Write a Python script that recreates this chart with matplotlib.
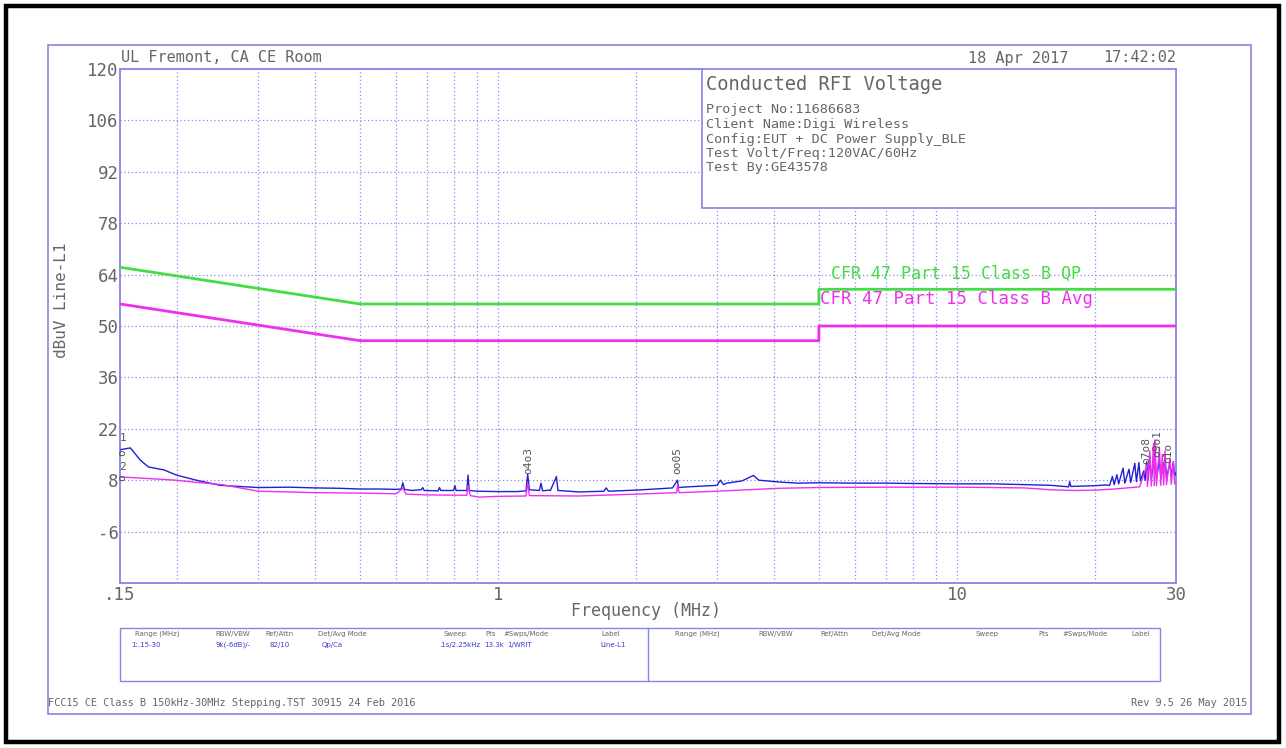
import matplotlib
matplotlib.use("Agg")
import matplotlib.pyplot as plt
from matplotlib.patches import Rectangle
from matplotlib.lines import Line2D

W, H = 1286, 748

# ---- chart values -------------------------------------------------------
y_ticks = [-6, 8, 22, 36, 50, 64, 78, 92, 106, 120]
x_ticks = [0.15, 1, 10, 30]
x_tick_labels = [".15", "1", "10", "30"]
x_grid = [0.2, 0.3, 0.4, 0.5, 0.6, 0.7, 0.8, 0.9, 1, 2, 3, 4, 5, 6, 7, 8, 9, 10, 20]

# FCC Part 15 Class B conducted limits
qp_freq = [0.15, 0.5, 5.0, 5.0, 30.0]
qp_level = [66, 56, 56, 60, 60]
avg_freq = [0.15, 0.5, 5.0, 5.0, 30.0]
avg_level = [56, 46, 46, 50, 50]

# Peak / QP scan (blue)
peak_freq = [0.150, 0.158, 0.166, 0.173, 0.187, 0.199, 0.220, 0.248, 0.300, 0.350,
             0.400, 0.450, 0.500, 0.550, 0.600, 0.615, 0.620, 0.625, 0.650, 0.680,
             0.685, 0.690, 0.740, 0.745, 0.750, 0.800, 0.805, 0.810, 0.855, 0.860,
             0.865, 0.900, 1.000, 1.100, 1.150, 1.160, 1.170, 1.230, 1.240, 1.250,
             1.290, 1.300, 1.340, 1.350, 1.500, 1.700, 1.720, 1.740, 2.000, 2.200,
             2.400, 2.460, 2.470, 2.600, 3.000, 3.050, 3.100, 3.150, 3.400, 3.600,
             3.700, 4.100, 4.500, 5.000, 6.000, 7.000, 8.000, 10.00, 12.00, 14.00,
             16.00, 17.50, 17.60, 17.70, 20.00, 21.00, 21.50, 21.80, 22.00, 22.30,
             22.50, 23.00, 23.20, 23.70, 23.90, 24.40, 24.60, 24.90, 25.10, 25.50,
             25.70, 25.90, 26.10, 26.30, 26.50, 27.00, 27.20, 27.60, 27.80, 28.40,
             28.60, 29.10, 29.30, 29.60, 29.80, 30.00]
peak_level = [16.3, 16.8, 13.5, 11.6, 10.8, 9.4, 8.0, 6.6, 6.0, 6.1,
              5.9, 5.8, 5.6, 5.6, 5.5, 5.6, 7.3, 5.5, 5.2, 5.4,
              6.0, 5.2, 5.1, 6.0, 5.2, 5.2, 6.5, 5.2, 5.2, 9.4,
              5.2, 5.0, 4.9, 4.9, 5.1, 9.6, 5.4, 5.2, 7.2, 5.1,
              5.3, 5.2, 9.0, 5.2, 4.8, 5.0, 5.9, 5.0, 5.3, 5.6,
              5.9, 8.0, 6.0, 6.2, 6.6, 8.0, 6.8, 7.2, 7.8, 9.3,
              8.0, 7.5, 7.2, 7.3, 7.2, 7.2, 7.1, 7.0, 7.0, 6.8,
              6.6, 6.2, 7.6, 6.3, 6.5, 6.7, 6.6, 9.0, 6.8, 9.5,
              7.0, 11.3, 7.2, 11.0, 7.4, 12.6, 7.6, 12.8, 7.8, 10.5,
              8.0, 13.0, 8.2, 14.5, 8.3, 15.0, 8.5, 13.5, 8.6, 14.0,
              8.8, 12.5, 9.0, 13.0, 9.2, 10.0]

# Average scan (magenta)
avg_scan_freq = [0.150, 0.160, 0.199, 0.220, 0.250, 0.300, 0.350, 0.400, 0.490, 0.600,
                 0.620, 0.630, 0.700, 0.855, 0.860, 0.870, 0.910, 1.000, 1.150, 1.160,
                 1.170, 1.500, 2.000, 2.450, 2.460, 2.480, 3.000, 3.500, 4.100, 5.000,
                 7.000, 10.00, 14.00, 16.00, 18.00, 20.00, 22.00, 24.00, 25.00, 25.90,
                 26.00, 26.30, 26.50, 26.80, 26.90, 27.00, 27.20, 27.60, 27.80, 28.00,
                 28.20, 28.40, 28.60, 29.10, 29.30, 29.60, 29.80, 30.00]
avg_scan_level = [8.9, 8.7, 8.0, 7.4, 6.8, 5.0, 4.8, 4.6, 4.5, 4.3,
                  5.8, 4.2, 4.0, 3.9, 6.5, 3.8, 3.4, 3.6, 3.7, 7.2,
                  3.8, 3.7, 4.2, 4.6, 6.7, 4.6, 5.0, 5.4, 5.8, 6.0,
                  6.1, 6.1, 5.9, 5.4, 5.2, 5.3, 5.6, 6.0, 6.2, 12.0,
                  6.3, 16.0, 6.4, 18.0, 6.5, 19.0, 6.5, 17.0, 6.6, 15.0,
                  6.7, 16.0, 6.8, 14.0, 6.9, 13.0, 7.0, 7.2]

header_site = "UL Fremont, CA CE Room"
header_date = "18 Apr 2017"
header_time = "17:42:02"
box_title = "Conducted RFI Voltage"
box_lines = ["Project No:11686683", "Client Name:Digi Wireless",
             "Config:EUT + DC Power Supply_BLE", "Test Volt/Freq:120VAC/60Hz",
             "Test By:GE43578"]
qp_label = "CFR 47 Part 15 Class B QP"
avg_label = "CFR 47 Part 15 Class B Avg"
y_label = "dBuV Line-L1"
x_label = "Frequency (MHz)"

table_heads = ["Range (MHz)", "RBW/VBW", "Ref/Attn", "Det/Avg Mode", "Sweep", "Pts",
               "#Swps/Mode", "Label"]
table_values = ["1:.15-30", "9k(-6dB)/-", "82/10", "Qp/Ca", ".1s/2.25kHz", "13.3k",
                "1/WRIT", "Line-L1"]
footer_left = "FCC15 CE Class B 150kHz-30MHz Stepping.TST 30915 24 Feb 2016"
footer_right = "Rev 9.5 26 May 2015"

# marker annotations: (freq, level, text, rotation)
marker_notes = [(0.152, 19.5, "1", 0), (0.152, 15.5, "o", 90),
                (0.152, 11.5, "2", 0), (0.152, 8.6, "o", 90),
                (1.165, 13.5, "o4o3", 90), (2.46, 13.5, "oo05", 90),
                (25.9, 16.0, "o7o8", 90), (27.3, 18.0, "o9o1", 90),
                (28.8, 15.5, "o1o", 90)]

# ---- styling ------------------------------------------------------------
GRID = "#8a8af0"
FRAME = "#8585e6"
TXT = "#666666"
GREEN = "#45dc45"
MAG = "#ee30ee"
BLUE = "#1f1fd6"
FONT = "DejaVu Sans Mono"
SMALL_FONT = "DejaVu Sans"


def fx(x):
    return x / W


def fy(y):
    return 1 - y / H


fig = plt.figure(figsize=(W / 100, H / 100), dpi=100)
fig.patch.set_facecolor("white")

# outer frames
fig.patches.append(Rectangle((fx(6), fy(742)), fx(1279) - fx(6), fy(6) - fy(742),
                             transform=fig.transFigure, fill=False, lw=3.2,
                             edgecolor="black"))
fig.patches.append(Rectangle((fx(48), fy(714)), fx(1251) - fx(48), fy(45) - fy(714),
                             transform=fig.transFigure, fill=False, lw=1.2,
                             edgecolor=FRAME))

ax = fig.add_axes([fx(120), fy(583), fx(1176) - fx(120), fy(69) - fy(583)])
ax.set_xscale("log")
ax.set_xlim(0.15, 30)
ax.set_ylim(-20, 120)

for f in x_grid:
    ax.axvline(f, color=GRID, lw=0.9, ls=(0, (1, 2)), zorder=0)
for v in y_ticks:
    ax.axhline(v, color=GRID, lw=0.9, ls=(0, (1, 2)), zorder=0)

ax.set_yticks(y_ticks)
ax.set_yticklabels([str(v) for v in y_ticks])
ax.set_xticks(x_ticks)
ax.set_xticklabels(x_tick_labels)
ax.xaxis.set_minor_locator(matplotlib.ticker.NullLocator())
ax.tick_params(length=0, labelsize=12.5, labelcolor=TXT)
ax.tick_params(axis="x", pad=2)
ax.tick_params(axis="y", pad=1)
for lab in ax.get_xticklabels() + ax.get_yticklabels():
    lab.set_family(FONT)
for s in ax.spines.values():
    s.set_color(FRAME)
    s.set_linewidth(1.3)

# limit lines
ax.plot(qp_freq, qp_level, color=GREEN, lw=2, zorder=3)
ax.plot(avg_freq, avg_level, color=MAG, lw=2, zorder=3)
ax.text(5.3, 64.3, qp_label, color=GREEN, fontsize=12, family=FONT,
        va="center", ha="left", zorder=4)
ax.text(5.02, 57.3, avg_label, color=MAG, fontsize=12.5, family=FONT,
        va="center", ha="left", zorder=4)

# scans
ax.plot(peak_freq, peak_level, color=BLUE, lw=1.0, zorder=5)
ax.plot(avg_scan_freq, avg_scan_level, color=MAG, lw=1.0, zorder=6)

for f, v, t, r in marker_notes:
    ax.text(f, v, t, rotation=r, color="#555555", fontsize=8, family=FONT,
            ha="center", va="center", zorder=7)

# information box
ax.add_patch(Rectangle((0.551, 0.7296), 0.449, 0.2704, transform=ax.transAxes,
                       facecolor="white", edgecolor=FRAME, lw=1.2, zorder=8))
fig.text(fx(706), fy(85), box_title, fontsize=13.5, color=TXT, family=FONT,
         va="center", ha="left")
for i, line in enumerate(box_lines):
    fig.text(fx(706), fy(110 + 14.5 * i), line, fontsize=9.7, color=TXT,
             family=FONT, va="center", ha="left")

# header
fig.text(fx(121), fy(58), header_site, fontsize=11, color=TXT, family=FONT,
         va="center", ha="left")
fig.text(fx(1068), fy(58), header_date, fontsize=11, color=TXT, family=FONT,
         va="center", ha="right")
fig.text(fx(1176), fy(58), header_time, fontsize=11, color=TXT, family=FONT,
         va="center", ha="right")

# axis titles
fig.text(fx(62), fy(300), y_label, rotation=90, fontsize=11.5, color=TXT,
         family=FONT, va="center", ha="center")
fig.text(fx(646), fy(611), x_label, fontsize=12, color=TXT, family=FONT,
         va="center", ha="center")

# settings table
fig.patches.append(Rectangle((fx(120), fy(681)), fx(1160) - fx(120), fy(628) - fy(681),
                             transform=fig.transFigure, fill=False, lw=1.0,
                             edgecolor=FRAME))
fig.lines.append(Line2D([fx(648), fx(648)], [fy(628), fy(681)],
                        transform=fig.transFigure, color=FRAME, lw=1.0))
left_cols = [135, 215, 265, 318, 443, 485, 503, 601]
left_val_cols = [131, 215, 270, 322, 439, 484, 507, 600]
right_cols = [675, 758, 820, 872, 976, 1038, 1062, 1131]
for x, t in zip(left_cols, table_heads):
    fig.text(fx(x), fy(634), t, fontsize=5, color=TXT, family=SMALL_FONT,
             ha="left", va="center")
for x, t in zip(left_val_cols, table_values):
    fig.text(fx(x), fy(645), t, fontsize=5, color="#3a3ad0", family=SMALL_FONT,
             ha="left", va="center")
for x, t in zip(right_cols, table_heads):
    fig.text(fx(x), fy(634), t, fontsize=5, color=TXT, family=SMALL_FONT,
             ha="left", va="center")

# footer
fig.text(fx(48), fy(703), footer_left, fontsize=7.4, color=TXT, family=FONT,
         ha="left", va="center")
fig.text(fx(1247), fy(703), footer_right, fontsize=7.4, color=TXT, family=FONT,
         ha="right", va="center")

fig.savefig("out.png", dpi=100, facecolor="white")
